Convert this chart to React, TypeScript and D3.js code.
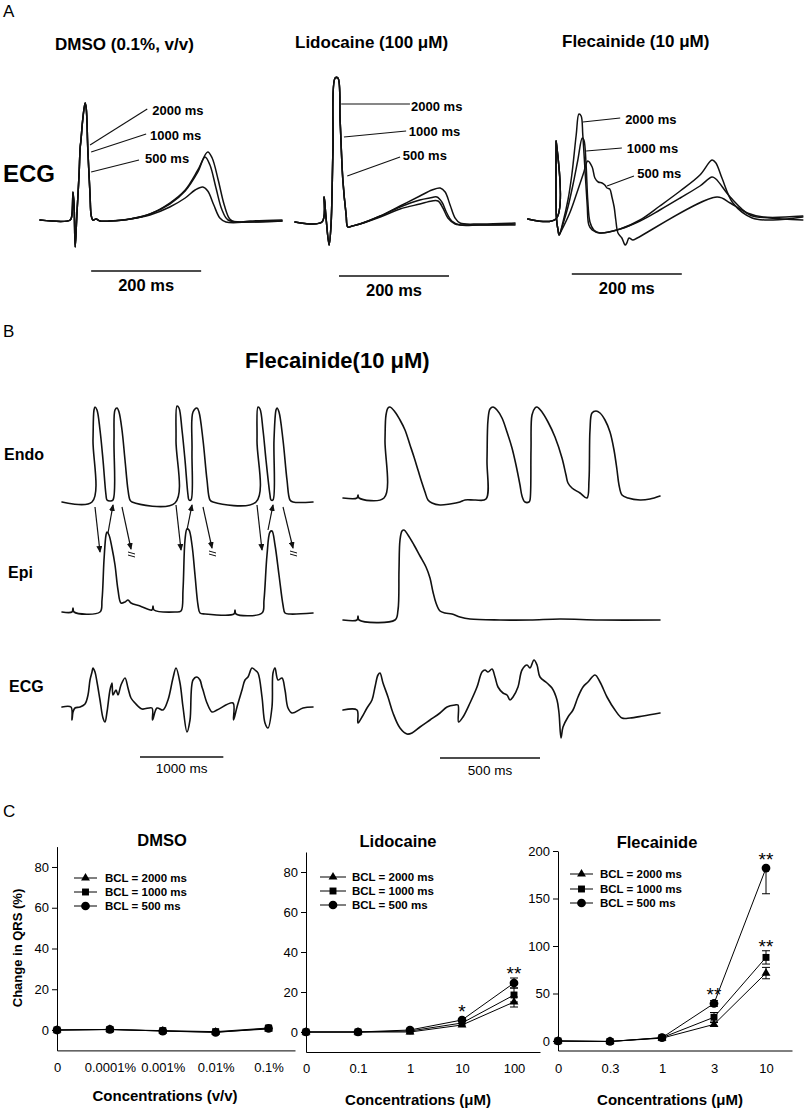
import React, { useEffect, useRef } from "react";
import * as d3 from "d3";

type P = [number, number];
const FONT = "'Liberation Sans', Arial, Helvetica, sans-serif";

// ---------------- Panel A : ECG at three BCLs (time in ms, amplitude in a.u.) ----------------
const bclLabels = ["2000 ms", "1000 ms", "500 ms"];

const dmsoQRS: P[] = [[0,0],[55,0],[58,5],[60,28],[62,14],[64,-27],[67,5],[71,45],[73,72],[74.5,80],[78,102],[82,117],[84,112],[87,70],[91,25],[93,5],[96,0],[102,1],[109,-1]];
const dmsoT2000: P[] = [[127,-1],[164,1],[200,6],[236,17],[264,30],[287,50],[305,68],[313,62],[324,40],[335,15],[345,1],[355,-2],[382,-1],[440,0]];
const dmsoT1000: P[] = [[127,-1],[164,1],[200,6],[236,16],[264,29],[287,48],[300,63],[309,55],[320,32],[331,10],[342,0],[382,-2],[440,-1]];
const dmsoT500: P[] = [[127,-1],[164,1],[200,5],[236,13],[264,22],[282,30],[296,33],[305,29],[316,15],[327,2],[338,-2],[382,-2],[440,-1]];

const lidoQRS: P[] = [[0,0],[49,0],[53,25],[56,7],[62,-23],[65.5,-3],[69,72],[73,144],[78,144],[82,102],[87,42],[93,7],[96,-5],[104,-4],[118,-2]];
const lidoT2000: P[] = [[155,6],[191,16],[227,26],[249,32],[264,34],[273,30],[282,17],[291,4],[300,-1],[336,-2],[400,-1]];
const lidoT1000: P[] = [[155,6],[191,15],[227,22],[245,24],[258,25],[267,20],[276,9],[285,1],[300,-3],[336,-3],[400,-3]];
const lidoT500: P[] = [[155,5],[191,13],[227,18],[249,21],[260,21],[269,14],[278,4],[291,-2],[318,-3],[400,-2]];

const flecPre: P[] = [[-4,0],[47,0],[47.5,78],[48.2,0],[51,-11],[53,-16]];
const flec2000: P[] = [[60,-3],[69,19],[76,44],[84,84],[89,105],[93,103],[96,84],[100,49],[104,14],[107,-6],[113,-11],[127,-14],[164,-10],[200,-1],[236,13],[273,28],[309,44],[331,59],[338,56],[349,41],[369,16],[404,1],[442,-1],[496,2]];
const flec1000: P[] = [[60,-5],[69,12],[78,34],[87,59],[95,81],[98,79],[102,54],[105,19],[109,-3],[116,-11],[127,-14],[164,-10],[200,-2],[236,9],[273,21],[309,33],[331,42],[338,40],[364,22],[400,4],[436,1],[496,-1]];
const flec500: P[] = [[55,-14],[73,7],[87,29],[98,47],[105,58],[113,52],[118,41],[124,37],[131,36],[136,34],[140,31],[145,30],[149,22],[153,12],[156,-1],[160,-14],[167,-19],[173,-26],[176,-24],[180,-19],[187,-21],[195,-19],[340,22],[364,16],[395,6],[424,2],[496,3]];

// ---------------- Panel B : Flecainide 10 uM, Endo / Epi / ECG ----------------
const endoLeft: P[] = [[0,0],[360,0],[372,62],[384,92],[396,95],[420,92],[456,72],[492,42],[528,7],[540,2],[576,1],[612,2],[624,62],[636,92],[660,94],[684,90],[720,72],[756,42],[792,12],[816,2],[840,0],[1356,-1],[1368,62],[1380,96],[1404,94],[1440,72],[1476,42],[1512,7],[1524,2],[1548,2],[1560,52],[1572,90],[1620,94],[1644,90],[1692,62],[1740,22],[1776,2],[1812,0],[2328,0],[2340,62],[2352,95],[2376,93],[2412,72],[2448,42],[2496,7],[2508,2],[2532,2],[2544,62],[2568,92],[2580,94],[2604,90],[2652,62],[2700,22],[2736,2],[2772,0],[3012,0]];
const epiLeft: P[] = [[0,0],[120,0],[132,4],[144,0],[456,0],[480,12],[504,52],[528,77],[540,80],[564,77],[600,64],[636,47],[672,22],[708,9],[756,10],[792,12],[828,9],[936,6],[1080,2],[1092,6],[1104,2],[1356,0],[1428,1],[1452,22],[1476,72],[1500,83],[1524,82],[1560,67],[1596,37],[1632,7],[1656,-1],[1716,-2],[2064,-2],[2076,2],[2088,-2],[2400,-1],[2424,12],[2460,57],[2496,80],[2520,81],[2556,67],[2604,37],[2652,7],[2676,-1],[2736,-2],[3012,-1]];
const ecgLeft: P[] = [[0,0],[108,0],[120,-13],[132,-5],[156,-1],[216,0],[276,3],[312,12],[336,27],[360,35],[372,39],[396,35],[420,25],[456,7],[492,-11],[516,-15],[540,-5],[576,17],[600,24],[612,12],[648,17],[672,12],[708,22],[756,29],[792,19],[828,9],[876,4],[960,-2],[1080,-1],[1086,-13],[1140,-1],[1212,-3],[1272,7],[1332,29],[1368,39],[1416,24],[1452,0],[1500,-25],[1536,-13],[1572,27],[1620,30],[1656,27],[1680,20],[1692,17],[1740,4],[1800,-5],[1860,-3],[2052,4],[2058,-13],[2100,0],[2160,17],[2196,27],[2232,30],[2280,39],[2316,37],[2352,34],[2400,10],[2436,-16],[2472,-21],[2520,0],[2532,34],[2556,39],[2592,27],[2640,29],[2676,17],[2712,-1],[2760,-6],[2892,-1],[3012,0]];

const endoRight: P[] = [[0,0],[70,0],[75,3],[80,0],[205,0],[210,58],[215,83],[225,90],[235,91],[260,86],[285,78],[310,68],[335,53],[355,41],[375,28],[395,15],[410,6],[425,-2],[445,-5],[485,-7],[535,-6],[585,-4],[610,-2],[660,-2],[715,-1],[720,38],[725,78],[735,89],[750,91],[770,88],[795,80],[820,66],[845,50],[865,33],[885,13],[895,2],[910,-4],[930,-4],[935,-2],[940,48],[945,83],[960,90],[970,91],[995,86],[1025,76],[1060,61],[1095,40],[1115,23],[1125,15],[1145,10],[1185,5],[1220,0],[1230,18],[1235,68],[1245,85],[1265,87],[1285,85],[1310,78],[1335,66],[1355,48],[1370,28],[1380,13],[1395,3],[1425,0],[1485,-2],[1535,-1],[1585,2]];
const epiRight: P[] = [[0,1],[70,1],[75,5],[80,1],[260,1],[275,11],[280,51],[285,81],[295,90],[305,91],[325,86],[355,76],[385,65],[415,54],[435,43],[450,29],[465,18],[485,10],[510,8],[545,7],[585,4],[635,2],[785,1],[935,1],[1085,2],[1285,1],[1585,1]];
const ecgRight: P[] = [[0,0],[70,0],[75,-13],[95,-7],[120,2],[145,10],[160,23],[175,35],[185,37],[200,27],[225,13],[250,-3],[285,-18],[320,-24],[345,-23],[385,-17],[435,-10],[485,-3],[520,3],[560,5],[575,5],[578,-12],[600,-7],[635,7],[670,23],[695,38],[710,40],[725,38],[745,41],[760,33],[775,23],[800,17],[820,15],[835,10],[850,13],[875,23],[895,40],[920,45],[935,42],[955,50],[970,45],[985,33],[1020,27],[1045,22],[1070,10],[1080,-3],[1090,-28],[1100,-17],[1125,-7],[1150,0],[1175,13],[1200,23],[1225,28],[1260,35],[1285,28],[1320,13],[1360,0],[1395,-8],[1435,-8],[1500,-6],[1585,-3]];

// conduction arrows (ms, a.u. relative to Endo baseline): [t1, a1, t2, a2, broken]
const conductionArrows: [number, number, number, number, boolean][] = [
  [396,-5,456,-50,false],[552,-31,612,-3,false],[720,-5,828,-47,true],
  [1368,-3,1428,-48,false],[1500,-28,1560,-3,false],[1692,-5,1800,-46,true],
  [2340,-3,2400,-48,false],[2472,-28,2532,-3,false],[2652,-5,2772,-46,true],
];

// ---------------- Panel C : change in QRS (%) ----------------
const dmsoConc = ["0", "0.0001%", "0.001%", "0.01%", "0.1%"];
const lidoConc = ["0", "0.1", "1", "10", "100"];
const flecConc = ["0", "0.3", "1", "3", "10"];

const dmso2000 = [0, 0.3, -0.5, -1, 0.5];
const dmso1000 = [0, 0.2, -0.3, -0.8, 1];
const dmso500 = [0, 0.3, -0.5, -1.2, 0.8];
const dmsoErr = [0, 0.5, 0.5, 0.5, 1];

const lido2000 = [0, 0, 0, 3.5, 15];
const lido1000 = [0, 0, 0.5, 4.5, 18.5];
const lido500 = [0, 0, 1, 6, 24.5];
const lidoErr2000 = [0, 0, 0.3, 0.8, 2.5];
const lidoErr1000 = [0, 0, 0.3, 0.8, 3.5];
const lidoErr500 = [0, 0, 0.4, 1, 2.5];

const flecV2000 = [0, -0.5, 3, 17.5, 71.5];
const flecV1000 = [0, -0.5, 3.5, 25, 88];
const flecV500 = [0, -0.5, 3.5, 39.5, 182];
const flecErr2000 = [0, 0, 0.5, 2, 6];
const flecErr1000 = [0, 0, 0.5, 5, 7];
const flecErr500Lo = [0, 0, 0.5, 3, 27];
const flecErr500Hi = [0, 0, 0.5, 3, 0];

const legendLabels = ["BCL = 2000 ms", "BCL = 1000 ms", "BCL = 500 ms"];
type MarkerKind = "triangle" | "square" | "circle";
const markerKinds: MarkerKind[] = ["triangle", "square", "circle"];

// ---------------------------------------------------------------------------
const lineGen = (xs: d3.ScaleLinear<number, number>, ys: d3.ScaleLinear<number, number>) =>
  d3.line<P>().x((d) => xs(d[0])).y((d) => ys(d[1])).curve(d3.curveCatmullRom.alpha(0.5));

function traceScales(x0: number, base: number, pxPerMs: number) {
  const x = d3.scaleLinear().domain([0, 1000]).range([x0, x0 + 1000 * pxPerMs]);
  const y = d3.scaleLinear().domain([0, 100]).range([base, base - 100]);
  return { x, y };
}

function Trace({ data, x, y, w = 1.6 }: { data: P[]; x: any; y: any; w?: number }) {
  return <path d={lineGen(x, y)(data) || ""} fill="none" stroke="#111" strokeWidth={w} strokeLinejoin="round" strokeLinecap="round" />;
}

const panelA = [
  { title: "DMSO (0.1%, v/v)", tx: 55, ty: 50, x0: 40, base: 220,
    traces: [dmsoQRS.concat(dmsoT2000), dmsoQRS.concat(dmsoT1000), dmsoQRS.concat(dmsoT500)],
    leaders: [[91,75,195,111],[93,68,193,86],[93,48,180,60]], labels: [[204,110],[200,85],[191,62]],
    bar: [93, 293, -51, -65] },
  { title: "Lidocaine (100 \u03bcM)", tx: 295, ty: 48, x0: 295, base: 222,
    traces: [lidoQRS.concat(lidoT2000), lidoQRS.concat(lidoT1000), lidoQRS.concat(lidoT500)],
    leaders: [[84,118,209,118],[89,85,202,91],[95,46,191,65]], labels: [[211,116],[207,91],[196,67]],
    bar: [80, 280, -54, -68] },
  { title: "Flecainide (10 \u03bcM)", tx: 562, ty: 47, x0: 530, base: 219,
    traces: [flecPre.concat(flec2000), flecPre.concat(flec1000), flecPre.concat(flec500)],
    leaders: [[96,97,164,101],[102,68,167,71],[140,33,189,43]], labels: [[173,100],[176,71],[195,46]],
    bar: [76, 276, -55, -69] },
];

function PanelA() {
  return (
    <g>
      <text x={3} y={17} fontSize={17}>A</text>
      <text x={3} y={182} fontSize={24} fontWeight="bold">ECG</text>
      {panelA.map((p, i) => {
        const { x, y } = traceScales(p.x0, p.base, 0.55);
        return (
          <g key={i}>
            <text x={p.tx} y={p.ty} fontSize={17} fontWeight="bold">{p.title}</text>
            {p.traces.map((t, j) => <Trace key={j} data={t} x={x} y={y} w={1.5} />)}
            {p.leaders.map((l, j) => (
              <line key={j} x1={x(l[0])} y1={y(l[1])} x2={x(l[2])} y2={y(l[3])} stroke="#111" strokeWidth={1.1} />
            ))}
            {p.labels.map((l, j) => (
              <text key={j} x={x(l[0])} y={y(l[1])} dy="0.35em" fontSize={13} fontWeight="bold">{bclLabels[j]}</text>
            ))}
            <line x1={x(p.bar[0])} x2={x(p.bar[1])} y1={y(p.bar[2])} y2={y(p.bar[2])} stroke="#111" strokeWidth={1.6} />
            <text x={(x(p.bar[0]) + x(p.bar[1])) / 2} y={y(p.bar[3])} dy="0.36em" textAnchor="middle" fontSize={16.5} fontWeight="bold">200 ms</text>
          </g>
        );
      })}
    </g>
  );
}

function PanelB() {
  const L = { endo: traceScales(62, 502, 1 / 12), epi: traceScales(62, 612, 1 / 12), ecg: traceScales(62, 707, 1 / 12) };
  const R = { endo: traceScales(343, 498, 0.2), epi: traceScales(343, 621, 0.2), ecg: traceScales(343, 710, 0.2) };
  return (
    <g>
      <defs>
        <marker id="ah" markerUnits="userSpaceOnUse" markerWidth={7} markerHeight={6} refX={6} refY={3} orient="auto">
          <path d="M0,0 L7,3 L0,6 z" fill="#111" />
        </marker>
      </defs>
      <text x={3} y={337} fontSize={17}>B</text>
      <text x={245} y={368} fontSize={22} fontWeight="bold">Flecainide(10 {"\u03bc"}M)</text>
      <text x={4} y={460} fontSize={16} fontWeight="bold">Endo</text>
      <text x={8} y={578} fontSize={16} fontWeight="bold">Epi</text>
      <text x={9} y={692} fontSize={16} fontWeight="bold">ECG</text>

      <Trace data={endoLeft} x={L.endo.x} y={L.endo.y} />
      <Trace data={epiLeft} x={L.epi.x} y={L.epi.y} />
      <Trace data={ecgLeft} x={L.ecg.x} y={L.ecg.y} />
      <Trace data={endoRight} x={R.endo.x} y={R.endo.y} />
      <Trace data={epiRight} x={R.epi.x} y={R.epi.y} />
      <Trace data={ecgRight} x={R.ecg.x} y={R.ecg.y} />

      {conductionArrows.map((a, i) => {
        const x1 = L.endo.x(a[0]), y1 = L.endo.y(a[1]), x2 = L.endo.x(a[2]), y2 = L.endo.y(a[3]);
        return (
          <g key={i}>
            <line x1={x1} y1={y1} x2={x2} y2={y2} stroke="#111" strokeWidth={1.2} markerEnd="url(#ah)" />
            {a[4] && (
              <g stroke="#111" strokeWidth={1}>
                <line x1={x2 - 3} y1={y2 + 3} x2={x2 + 4} y2={y2 + 5} />
                <line x1={x2 - 3} y1={y2 + 6} x2={x2 + 4} y2={y2 + 8} />
              </g>
            )}
          </g>
        );
      })}

      <line x1={L.ecg.x(936)} x2={L.ecg.x(1936)} y1={L.ecg.y(-50)} y2={L.ecg.y(-50)} stroke="#111" strokeWidth={1.5} />
      <text x={L.ecg.x(1436)} y={L.ecg.y(-61)} dy="0.36em" textAnchor="middle" fontSize={13.5}>1000 ms</text>
      <line x1={R.ecg.x(485)} x2={R.ecg.x(985)} y1={R.ecg.y(-48)} y2={R.ecg.y(-48)} stroke="#111" strokeWidth={1.5} />
      <text x={R.ecg.x(735)} y={R.ecg.y(-60)} dy="0.36em" textAnchor="middle" fontSize={13.5}>500 ms</text>
    </g>
  );
}

type SeriesSpec = { values: number[]; errLo: number[]; errHi: number[] };
type ChartSpec = {
  title: string; titleX: number; titleY: number; cats: string[]; x0: number; x1: number;
  yDomain: [number, number]; yRange: [number, number]; yTicks: number[]; xLabelY: number;
  xLabel: string; xLabelX: number; xLabelBase: number; legend: { x1: number; x2: number; tx: number; rows: number[] };
  series: SeriesSpec[]; stars: { s: number; i: number; text: string }[];
};

const charts: ChartSpec[] = [
  { title: "DMSO", titleX: 162, titleY: 846, cats: dmsoConc, x0: 57, x1: 295, yDomain: [-10, 90], yRange: [1050.4, 846.6],
    yTicks: [0, 20, 40, 60, 80], xLabelY: 1067, xLabel: "Concentrations (v/v)", xLabelX: 165, xLabelBase: 1101,
    legend: { x1: 74, x2: 97, tx: 105, rows: [878, 892, 906] },
    series: [
      { values: dmso2000, errLo: dmsoErr, errHi: dmsoErr },
      { values: dmso1000, errLo: dmsoErr, errHi: dmsoErr },
      { values: dmso500, errLo: dmsoErr, errHi: dmsoErr },
    ], stars: [] },
  { title: "Lidocaine", titleX: 398, titleY: 847, cats: lidoConc, x0: 306, x1: 540, yDomain: [-10, 90], yRange: [1052, 852],
    yTicks: [0, 20, 40, 60, 80], xLabelY: 1068, xLabel: "Concentrations (\u03bcM)", xLabelX: 418, xLabelBase: 1105,
    legend: { x1: 320, x2: 346, tx: 352, rows: [877, 891, 905] },
    series: [
      { values: lido2000, errLo: lidoErr2000, errHi: lidoErr2000 },
      { values: lido1000, errLo: lidoErr1000, errHi: lidoErr1000 },
      { values: lido500, errLo: lidoErr500, errHi: lidoErr500 },
    ], stars: [{ s: 2, i: 3, text: "*" }, { s: 2, i: 4, text: "**" }] },
  { title: "Flecainide", titleX: 657, titleY: 848, cats: flecConc, x0: 558, x1: 792, yDomain: [-10, 200], yRange: [1050.5, 851],
    yTicks: [0, 50, 100, 150, 200], xLabelY: 1068, xLabel: "Concentrations (\u03bcM)", xLabelX: 670, xLabelBase: 1105,
    legend: { x1: 570, x2: 593, tx: 600, rows: [874, 889, 903] },
    series: [
      { values: flecV2000, errLo: flecErr2000, errHi: flecErr2000 },
      { values: flecV1000, errLo: flecErr1000, errHi: flecErr1000 },
      { values: flecV500, errLo: flecErr500Lo, errHi: flecErr500Hi },
    ], stars: [{ s: 2, i: 3, text: "**" }, { s: 2, i: 4, text: "**" }, { s: 1, i: 4, text: "**" }] },
];

function Marker({ kind, cx, cy }: { kind: MarkerKind; cx: number; cy: number }) {
  const type = kind === "triangle" ? d3.symbolTriangle : kind === "square" ? d3.symbolSquare : d3.symbolCircle;
  const size = kind === "triangle" ? 34 : kind === "square" ? 48 : 60;
  return <path d={d3.symbol().type(type).size(size)() || ""} transform={`translate(${cx},${cy})`} fill="#000" />;
}

function DoseChart({ spec }: { spec: ChartSpec }) {
  const yRef = useRef<SVGGElement>(null);
  const xRef = useRef<SVGGElement>(null);
  const x = d3.scaleLinear().domain([0, 4.5]).range([spec.x0, spec.x1]);
  const y = d3.scaleLinear().domain(spec.yDomain).range(spec.yRange);
  const axisY = spec.yRange[0];
  const idx = d3.range(spec.cats.length);

  useEffect(() => {
    const gy = d3.select(yRef.current as SVGGElement);
    gy.call(d3.axisLeft(y).tickValues(spec.yTicks).tickSize(5).tickSizeOuter(0).tickPadding(3) as any);
    gy.attr("font-family", FONT).attr("font-size", 13);
    gy.selectAll("path, line").attr("stroke", "#000").attr("stroke-width", 1);
    gy.selectAll("text").attr("fill", "#000");
    const gx = d3.select(xRef.current as SVGGElement);
    gx.call(
      d3.axisBottom(x).tickValues(idx).tickSize(0).tickSizeOuter(0)
        .tickPadding(spec.xLabelY - axisY - 4.7).tickFormat((d: any) => spec.cats[+d]) as any
    );
    gx.attr("font-family", FONT).attr("font-size", 13);
    gx.selectAll("path, line").attr("stroke", "#000").attr("stroke-width", 1);
    gx.selectAll("text").attr("fill", "#000");
  }, []);

  const ln = d3.line<number>().x((_, i) => x(i)).y((d) => y(d));

  return (
    <g>
      <text x={spec.titleX} y={spec.titleY} textAnchor="middle" fontSize={16.5} fontWeight="bold">{spec.title}</text>
      <g ref={yRef} transform={`translate(${spec.x0},0)`} />
      <g ref={xRef} transform={`translate(0,${axisY})`} />
      <text x={spec.xLabelX} y={spec.xLabelBase} textAnchor="middle" fontSize={15} fontWeight="bold">{spec.xLabel}</text>
      {spec.series.map((s, si) => (
        <path key={"l" + si} d={ln(s.values) || ""} fill="none" stroke="#000" strokeWidth={1} />
      ))}
      {spec.series.map((s, si) =>
        s.values.map((v, i) => {
          const lo = s.errLo[i], hi = s.errHi[i];
          if (lo < 1.2 && hi < 1.2) return null;
          const cx = x(i);
          return (
            <g key={`e${si}-${i}`} stroke="#000" strokeWidth={1}>
              <line x1={cx} x2={cx} y1={y(v - lo)} y2={y(v + hi)} />
              {lo > 0 && <line x1={cx - 4} x2={cx + 4} y1={y(v - lo)} y2={y(v - lo)} />}
              {hi > 0 && <line x1={cx - 4} x2={cx + 4} y1={y(v + hi)} y2={y(v + hi)} />}
            </g>
          );
        })
      )}
      {spec.series.map((s, si) =>
        s.values.map((v, i) => <Marker key={`m${si}-${i}`} kind={markerKinds[si]} cx={x(i)} cy={y(v)} />)
      )}
      {spec.stars.map((st, k) => {
        const s = spec.series[st.s];
        const v = s.values[st.i];
        const top = Math.min(y(v + s.errHi[st.i]), y(v) - 4);
        return (
          <text key={k} x={x(st.i)} y={top + 2} textAnchor="middle" fontSize={19}>{st.text}</text>
        );
      })}
      {legendLabels.map((lab, k) => (
        <g key={k}>
          <line x1={spec.legend.x1} x2={spec.legend.x2} y1={spec.legend.rows[k]} y2={spec.legend.rows[k]} stroke="#000" strokeWidth={1} />
          <Marker kind={markerKinds[k]} cx={(spec.legend.x1 + spec.legend.x2) / 2} cy={spec.legend.rows[k]} />
          <text x={spec.legend.tx} y={spec.legend.rows[k]} dy="0.36em" fontSize={11.5} fontWeight="bold">{lab}</text>
        </g>
      ))}
    </g>
  );
}

function PanelC() {
  return (
    <g>
      <text x={3} y={817} fontSize={17}>C</text>
      <text transform="translate(22,948) rotate(-90)" textAnchor="middle" fontSize={13} fontWeight="bold">Change in QRS (%)</text>
      {charts.map((c, i) => <DoseChart key={i} spec={c} />)}
    </g>
  );
}

export default function App() {
  return (
    <div style={{ position: "absolute", left: 0, top: 0, width: 806, height: 1111, background: "#fff" }}>
      <svg width={806} height={1111} style={{ display: "block", fontFamily: FONT }} fontFamily={FONT}>
        <rect width={806} height={1111} fill="#fff" />
        <PanelA />
        <PanelB />
        <PanelC />
      </svg>
    </div>
  );
}
